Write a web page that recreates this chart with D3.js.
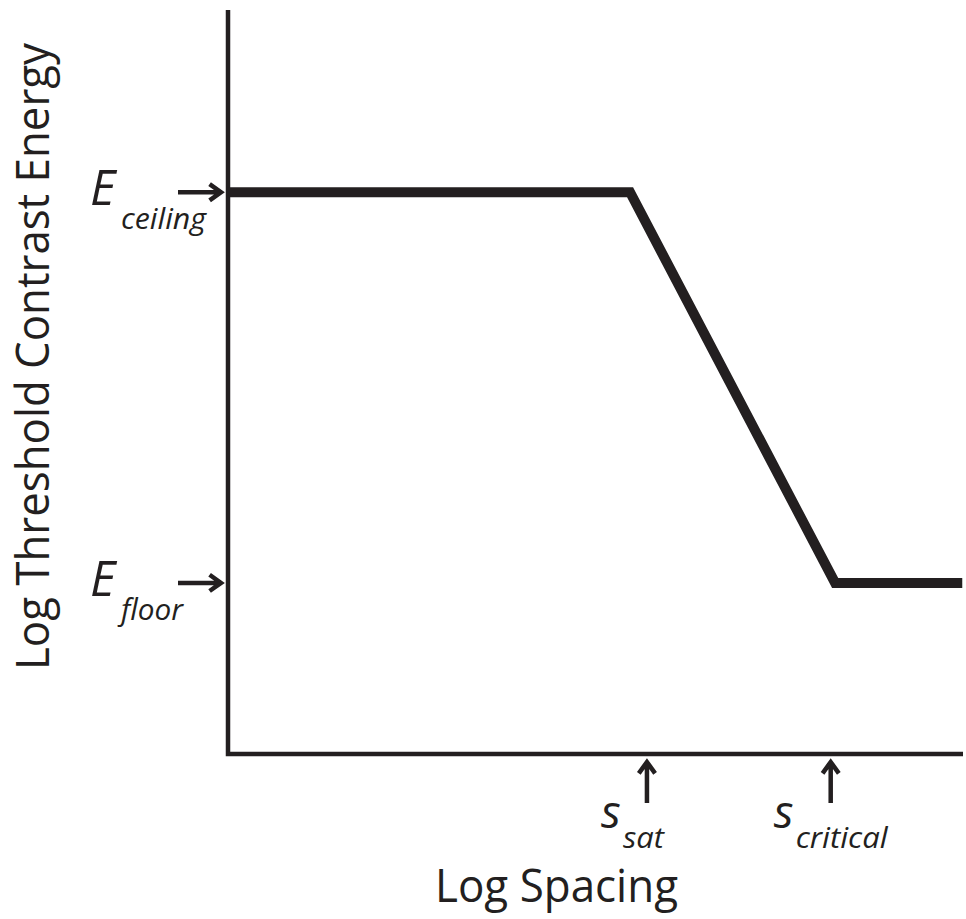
<!DOCTYPE html>
<html><head><meta charset="utf-8">
<script src="https://cdn.jsdelivr.net/npm/d3@7"></script>
<style>body{margin:0;background:#fff}svg{display:block}</style>
</head><body>
<script>
// Data (log units, arbitrary 0-100)
const curveX = [0, 54.7, 82.6, 99.9];
const curveY = [75.5, 75.5, 23.0, 23.0];
const yMarkMain = ["E", "E"];
const yMarkSub = ["ceiling", "floor"];
const yMarkValue = [75.5, 23.0];
const xMarkMain = ["s", "s"];
const xMarkSub = ["sat", "critical"];
const xMarkValue = [57.0, 82.0];
const xLabel = "Log Spacing";
const yLabel = "Log Threshold Contrast Energy";

const W = 966, H = 919, ink = "#231f20";
const font = "'Open Sans', sans-serif";
const svg = d3.select("body").append("svg").attr("width", W).attr("height", H);
const x = d3.scaleLinear().domain([0, 100]).range([228, 963]);
const y = d3.scaleLinear().domain([0, 100]).range([754, 10]);

// axes
svg.append("path").attr("d", `M${x(0)},${y(100)}V${y(0)}H${x(100)}`)
  .attr("fill", "none").attr("stroke", ink).attr("stroke-width", 4.5);

// curve
const pts = curveX.map((v, i) => [x(v), y(curveY[i])]);
svg.append("path").attr("d", d3.line()(pts)).attr("fill", "none")
  .attr("stroke", ink).attr("stroke-width", 10).attr("stroke-linejoin", "miter");

function arrow(x1, y1, x2, y2) {
  const a = Math.atan2(y2 - y1, x2 - x1), h = 14, sp = 0.62;
  const p1 = [x2 - h * Math.cos(a - sp), y2 - h * Math.sin(a - sp)];
  const p2 = [x2 - h * Math.cos(a + sp), y2 - h * Math.sin(a + sp)];
  svg.append("path").attr("d", `M${x1},${y1}L${x2 - 2*Math.cos(a)},${y2 - 2*Math.sin(a)}M${p1}L${x2},${y2}L${p2}`)
    .attr("fill", "none").attr("stroke", ink).attr("stroke-width", 4.5);
}

// y marks (layout: subscript widths)
const ySubLen = [85, 62];
yMarkValue.forEach((v, i) => {
  const yy = y(v);
  arrow(178, yy, 221, yy);
  svg.append("text").attr("x", 90).attr("y", yy + 13)
    .attr("font-family", font).attr("font-style", "italic").attr("fill", ink)
    .attr("font-size", 49).text(yMarkMain[i]);
  svg.append("text").attr("x", 121).attr("y", yy + 37)
    .attr("font-family", font).attr("font-style", "italic").attr("fill", ink)
    .attr("font-size", 29).attr("textLength", ySubLen[i]).attr("lengthAdjust", "spacingAndGlyphs")
    .text(yMarkSub[i]);
});

// x marks (layout: label offsets from arrow)
const xOff = [-46, -57], xSubLen = [41, 92];
xMarkValue.forEach((v, i) => {
  const xx = x(v);
  arrow(xx, 803, xx, 762);
  svg.append("text").attr("x", xx + xOff[i]).attr("y", 828)
    .attr("font-family", font).attr("font-style", "italic").attr("fill", ink)
    .attr("font-size", 46).text(xMarkMain[i]);
  svg.append("text").attr("x", xx + xOff[i] + 22).attr("y", 848)
    .attr("font-family", font).attr("font-style", "italic").attr("fill", ink)
    .attr("font-size", 29).attr("textLength", xSubLen[i]).attr("lengthAdjust", "spacingAndGlyphs")
    .text(xMarkSub[i]);
});

// axis titles
svg.append("text").attr("x", 556.5).attr("y", 902).attr("text-anchor", "middle")
  .attr("font-family", font).attr("font-size", 45).attr("fill", ink)
  .attr("textLength", 243).attr("lengthAdjust", "spacingAndGlyphs").text(xLabel);
svg.append("text").attr("transform", "translate(49,356.5) rotate(-90)").attr("text-anchor", "middle")
  .attr("font-family", font).attr("font-size", 46).attr("fill", ink)
  .attr("textLength", 627).attr("lengthAdjust", "spacingAndGlyphs").text(yLabel);
</script>
</body></html>
